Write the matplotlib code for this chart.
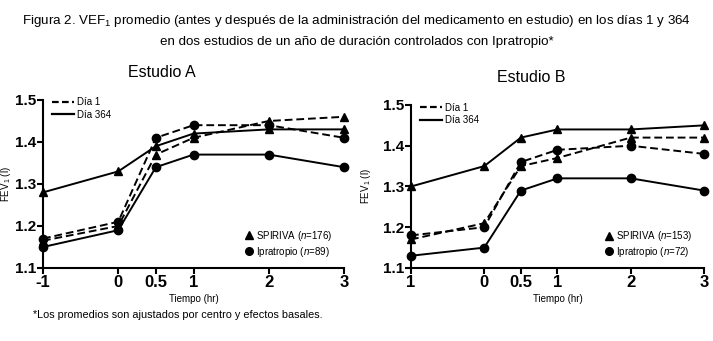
import matplotlib
matplotlib.use("Agg")
import matplotlib.pyplot as plt
from matplotlib.lines import Line2D

plt.rcParams['font.family'] = ['Liberation Sans', 'DejaVu Sans']
plt.rcParams['mathtext.fontset'] = 'custom'
plt.rcParams['mathtext.rm'] = 'Liberation Sans'
plt.rcParams['mathtext.it'] = 'Liberation Sans:italic'

times = [-1, 0, 0.5, 1, 2, 3]
tick_labels_a = ['-1', '0', '0.5', '1', '2', '3']
tick_labels_b = ['1', '0', '0.5', '1', '2', '3']

# Estudio A
a_spiriva_d1 = [1.165, 1.20, 1.37, 1.41, 1.45, 1.46]
a_spiriva_d364 = [1.28, 1.33, 1.39, 1.42, 1.43, 1.43]
a_ipra_d1 = [1.17, 1.21, 1.41, 1.44, 1.44, 1.41]
a_ipra_d364 = [1.15, 1.19, 1.34, 1.37, 1.37, 1.34]

# Estudio B
b_spiriva_d1 = [1.17, 1.21, 1.35, 1.37, 1.42, 1.42]
b_spiriva_d364 = [1.30, 1.35, 1.42, 1.44, 1.44, 1.45]
b_ipra_d1 = [1.18, 1.20, 1.36, 1.39, 1.40, 1.38]
b_ipra_d364 = [1.13, 1.15, 1.29, 1.32, 1.32, 1.29]

yticks = [1.1, 1.2, 1.3, 1.4, 1.5]

fig = plt.figure(figsize=(7.13, 3.41), dpi=100)
axA = fig.add_axes([0.0603, 0.2141, 0.4222, 0.4927])
axB = fig.add_axes([0.5764, 0.2141, 0.4110, 0.4780])

def draw(ax, sd1, sd364, id1, id364, xlabels, n_s, n_i, title, title_x, ylab_x):
    kw = dict(color='black', lw=1.4, ms=6, clip_on=False)
    ax.plot(times, sd1, ls=(0, (4, 2)), marker='^', **kw)
    ax.plot(times, sd364, ls='-', marker='^', **kw)
    ax.plot(times, id1, ls=(0, (4, 2)), marker='o', **kw)
    ax.plot(times, id364, ls='-', marker='o', **kw)
    ax.set_xlim(-1, 3)
    ax.set_ylim(1.1, 1.5)
    ax.set_xticks(times)
    ax.set_xticklabels(xlabels, fontsize=12, fontweight='bold')
    ax.set_yticks(yticks)
    ax.set_yticklabels([f'{v:.1f}' for v in yticks], fontsize=11, fontweight='bold')
    ax.spines['top'].set_visible(False)
    ax.spines['right'].set_visible(False)
    ax.spines['left'].set_linewidth(1.5)
    ax.spines['bottom'].set_linewidth(1.5)
    ax.tick_params(axis='both', direction='out', length=4, width=1.5, pad=1)
    ax.set_xlabel('Tiempo (hr)', fontsize=7, labelpad=3)
    ax.set_ylabel('FEV$_1$ (l)', fontsize=7)
    ax.yaxis.set_label_coords(ylab_x, 0.5)
    ax.text(title_x, 1.0 + 27 / (ax.get_position().height * 341), title, transform=ax.transAxes,
            ha='center', va='center', fontsize=11.5)
    h1 = [Line2D([], [], color='black', lw=1.6, ls=(0, (3, 1.5))),
          Line2D([], [], color='black', lw=1.6, ls='-')]
    leg1 = ax.legend(h1, ['Día 1', 'Día 364'], loc='upper left', bbox_to_anchor=(0.01, 1.05),
                     frameon=False, fontsize=7, handlelength=2.3, handletextpad=0.3,
                     labelspacing=0.25, borderpad=0.1)
    ax.add_artist(leg1)
    h2 = [Line2D([], [], color='black', ls='none', marker='^', ms=5.5),
          Line2D([], [], color='black', ls='none', marker='o', ms=5.5)]
    ax.legend(h2, [f'SPIRIVA ($\\it{{n}}$={n_s})', f'Ipratropio ($\\it{{n}}$={n_i})'],
              loc='lower right', bbox_to_anchor=(0.98, 0.02), frameon=False, fontsize=7,
              handlelength=0.8, handletextpad=0.3, labelspacing=0.2, borderpad=0.1)

draw(axA, a_spiriva_d1, a_spiriva_d364, a_ipra_d1, a_ipra_d364, tick_labels_a, 176, 89,
     'Estudio A', 0.395, -0.10)
draw(axB, b_spiriva_d1, b_spiriva_d364, b_ipra_d1, b_ipra_d364, tick_labels_b, 153, 72,
     'Estudio B', 0.41, -0.13)

fig.text(0.5, 0.937, 'Figura 2. VEF$_1$ promedio (antes y después de la administración del medicamento en estudio) en los días 1 y 364',
         ha='center', va='center', fontsize=9.6)
fig.text(0.5, 0.877, 'en dos estudios de un año de duración controlados con Ipratropio*',
         ha='center', va='center', fontsize=9.6)
fig.text(0.046, 0.075, '*Los promedios son ajustados por centro y efectos basales.',
         ha='left', va='center', fontsize=7.8)

fig.savefig('out.png', dpi=100, facecolor='white')
